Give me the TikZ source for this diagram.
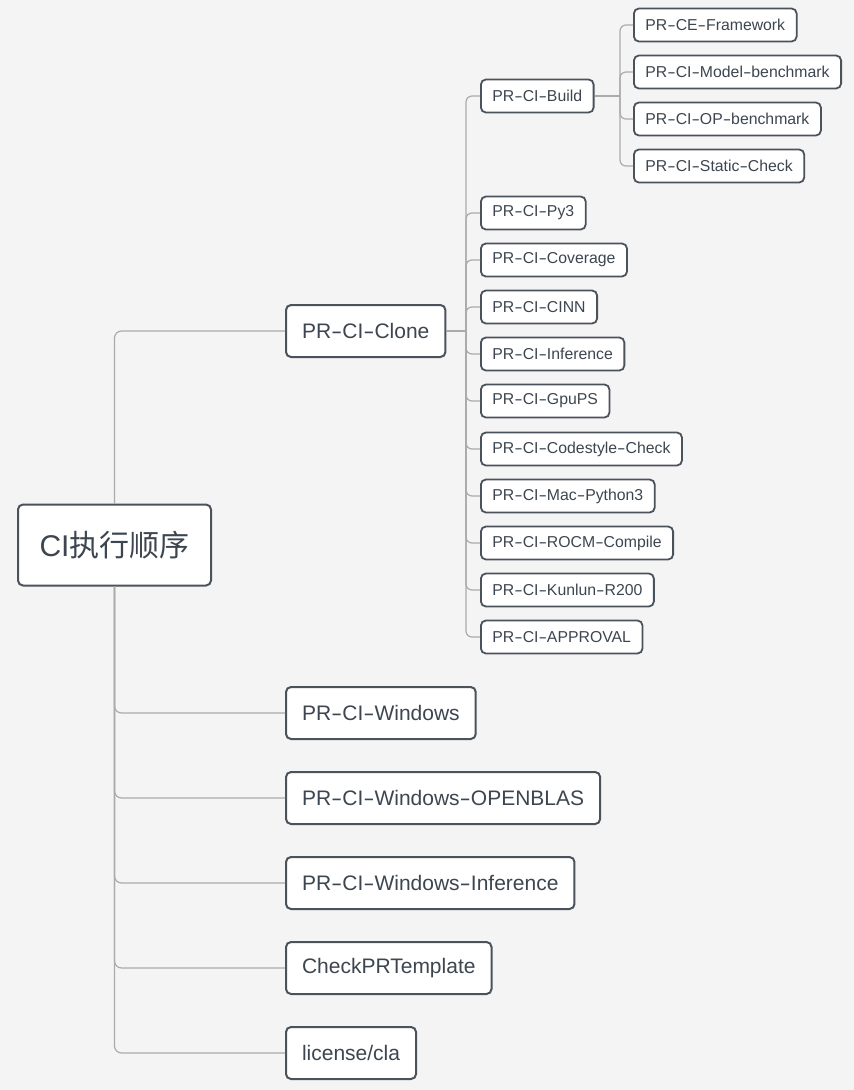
\documentclass[tikz,border=0pt]{standalone}
\usepackage{fontspec}
\setmainfont{Liberation Sans}
\newfontfamily\cjk{Noto Sans CJK SC}
\newcommand\hy{\scalebox{1.6}[1]{-}}
\definecolor{bg}{HTML}{F4F4F4}
\definecolor{bd}{HTML}{4A525B}
\definecolor{tx}{HTML}{3D4650}
\definecolor{ln}{HTML}{ABABAB}
\tikzset{
  box/.style={draw=bd, fill=white, rounded corners=5pt, text=tx, anchor=west, inner ysep=0pt},
  rootbox/.style={box, line width=2pt, minimum height=81pt, inner xsep=21.5pt, font=\fontsize{30}{34}\selectfont},
  lone/.style={box, line width=2pt, minimum height=52pt, inner xsep=16pt, font=\fontsize{21}{24}\selectfont},
  ltwo/.style={box, line width=1.8pt, minimum height=33pt, inner xsep=11.5pt, font=\fontsize{15.8}{18}\selectfont},
  conn/.style={draw=ln, line width=1.2pt, rounded corners=7pt},
}
\begin{document}
\begin{tikzpicture}[x=1pt,y=1pt]
\fill[bg] (0,0) rectangle (854,-1090);
\useasboundingbox (0,0) rectangle (854,-1090);
% root
\node[rootbox] (root) at (17,-545) {CI{\cjk 执行顺序}};
% level 1
\node[lone] (clone) at (285,-331) {PR\hy CI\hy Clone};
\node[lone] (win) at (285,-713) {PR\hy CI\hy Windows};
\node[lone] (openblas) at (285,-798) {PR\hy CI\hy Windows\hy OPENBLAS};
\node[lone] (wininf) at (285,-883) {PR\hy CI\hy Windows\hy Inference};
\node[lone] (tmpl) at (285,-968) {CheckPRTemplate};
\node[lone] (cla) at (285,-1053) {license/cla};
% level 2
\node[ltwo] (build) at (480,-96) {PR\hy CI\hy Build};
\node[ltwo] (py3) at (480,-213) {PR\hy CI\hy Py3};
\node[ltwo] (cov) at (480,-260) {PR\hy CI\hy Coverage};
\node[ltwo] (cinn) at (480,-307) {PR\hy CI\hy CINN};
\node[ltwo] (inf) at (480,-354) {PR\hy CI\hy Inference};
\node[ltwo] (gpups) at (480,-401) {PR\hy CI\hy GpuPS};
\node[ltwo] (style) at (480,-449) {PR\hy CI\hy Codestyle\hy Check};
\node[ltwo] (mac) at (480,-496) {PR\hy CI\hy Mac\hy Python3};
\node[ltwo] (rocm) at (480,-543) {PR\hy CI\hy ROCM\hy Compile};
\node[ltwo] (kunlun) at (480,-590) {PR\hy CI\hy Kunlun\hy R200};
\node[ltwo] (appr) at (480,-637) {PR\hy CI\hy APPROVAL};
% level 3
\node[ltwo] (ce) at (633,-25) {PR\hy CE\hy Framework};
\node[ltwo] (model) at (633,-72) {PR\hy CI\hy Model\hy benchmark};
\node[ltwo] (op) at (633,-119) {PR\hy CI\hy OP\hy benchmark};
\node[ltwo] (static) at (633,-166) {PR\hy CI\hy Static\hy Check};
% junctions
\coordinate (cj) at (466,-331);
\coordinate (bj) at (620,-96);
% root connectors
\draw[conn] (root.north) |- (clone.west);
\foreach \c in {win,openblas,wininf,tmpl,cla} \draw[conn] (root.south) |- (\c.west);
% clone connectors
\draw[conn] (clone.east) -- (cj);
\foreach \c in {build,py3,cov,cinn,inf,gpups,style,mac,rocm,kunlun,appr} \draw[conn, rounded corners=6pt] (cj) |- (\c.west);
% build connectors
\draw[conn] (build.east) -- (bj);
\foreach \c in {ce,model,op,static} \draw[conn, rounded corners=6pt] (bj) |- (\c.west);
\end{tikzpicture}
\end{document}
